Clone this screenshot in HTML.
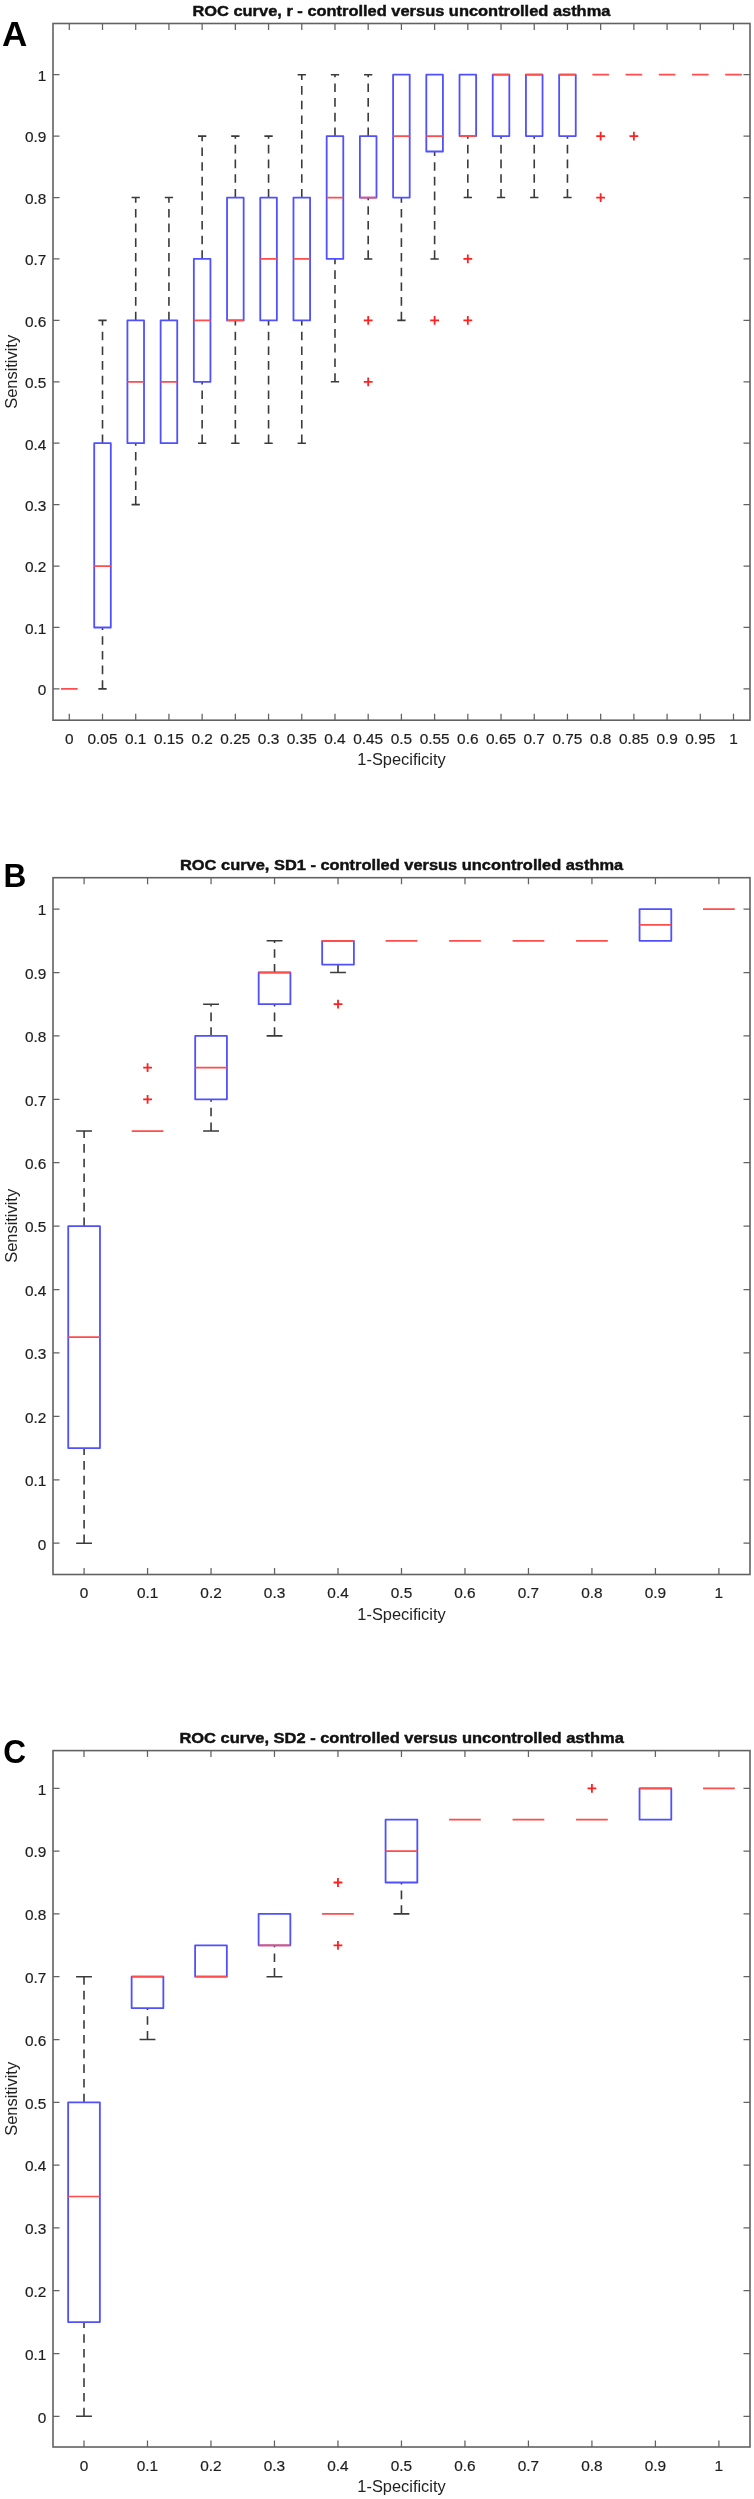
<!DOCTYPE html><html><head><meta charset="utf-8"><style>html,body{margin:0;padding:0;background:#fff;}svg{display:block;}text{font-family:"Liberation Sans", sans-serif;}</style></head><body>
<svg width="754" height="2499" viewBox="0 0 754 2499">
<rect x="0" y="0" width="754" height="2499" fill="#fff"/>
<defs><filter id="gs" x="0" y="0" filterUnits="userSpaceOnUse" width="754" height="2499"><feColorMatrix type="saturate" values="0"/></filter></defs>
<g fill="none" stroke="#626262" stroke-width="1.6" stroke-linecap="square">
<rect x="53" y="23.5" width="697" height="696.7"/>
<path stroke-width="1.25" stroke-linecap="butt" d="M69.3 720.2V713.7M69.3 23.5V30M102.51 720.2V713.7M102.51 23.5V30M135.72 720.2V713.7M135.72 23.5V30M168.93 720.2V713.7M168.93 23.5V30M202.14 720.2V713.7M202.14 23.5V30M235.35 720.2V713.7M235.35 23.5V30M268.56 720.2V713.7M268.56 23.5V30M301.77 720.2V713.7M301.77 23.5V30M334.98 720.2V713.7M334.98 23.5V30M368.19 720.2V713.7M368.19 23.5V30M401.4 720.2V713.7M401.4 23.5V30M434.61 720.2V713.7M434.61 23.5V30M467.82 720.2V713.7M467.82 23.5V30M501.03 720.2V713.7M501.03 23.5V30M534.24 720.2V713.7M534.24 23.5V30M567.45 720.2V713.7M567.45 23.5V30M600.66 720.2V713.7M600.66 23.5V30M633.87 720.2V713.7M633.87 23.5V30M667.08 720.2V713.7M667.08 23.5V30M700.29 720.2V713.7M700.29 23.5V30M733.5 720.2V713.7M733.5 23.5V30M53 688.9H59.5M750 688.9H743.5M53 627.48H59.5M750 627.48H743.5M53 566.06H59.5M750 566.06H743.5M53 504.64H59.5M750 504.64H743.5M53 443.22H59.5M750 443.22H743.5M53 381.8H59.5M750 381.8H743.5M53 320.38H59.5M750 320.38H743.5M53 258.96H59.5M750 258.96H743.5M53 197.54H59.5M750 197.54H743.5M53 136.12H59.5M750 136.12H743.5M53 74.7H59.5M750 74.7H743.5"/>
</g>
<g filter="url(#gs)">
<g font-size="15.4" fill="#1e1e1e" stroke="#1e1e1e" stroke-width="0.2">
<text transform="translate(69.3 743.7) scale(1 1)" text-anchor="middle">0</text>
<text transform="translate(102.51 743.7) scale(1 1)" text-anchor="middle">0.05</text>
<text transform="translate(135.72 743.7) scale(1 1)" text-anchor="middle">0.1</text>
<text transform="translate(168.93 743.7) scale(1 1)" text-anchor="middle">0.15</text>
<text transform="translate(202.14 743.7) scale(1 1)" text-anchor="middle">0.2</text>
<text transform="translate(235.35 743.7) scale(1 1)" text-anchor="middle">0.25</text>
<text transform="translate(268.56 743.7) scale(1 1)" text-anchor="middle">0.3</text>
<text transform="translate(301.77 743.7) scale(1 1)" text-anchor="middle">0.35</text>
<text transform="translate(334.98 743.7) scale(1 1)" text-anchor="middle">0.4</text>
<text transform="translate(368.19 743.7) scale(1 1)" text-anchor="middle">0.45</text>
<text transform="translate(401.4 743.7) scale(1 1)" text-anchor="middle">0.5</text>
<text transform="translate(434.61 743.7) scale(1 1)" text-anchor="middle">0.55</text>
<text transform="translate(467.82 743.7) scale(1 1)" text-anchor="middle">0.6</text>
<text transform="translate(501.03 743.7) scale(1 1)" text-anchor="middle">0.65</text>
<text transform="translate(534.24 743.7) scale(1 1)" text-anchor="middle">0.7</text>
<text transform="translate(567.45 743.7) scale(1 1)" text-anchor="middle">0.75</text>
<text transform="translate(600.66 743.7) scale(1 1)" text-anchor="middle">0.8</text>
<text transform="translate(633.87 743.7) scale(1 1)" text-anchor="middle">0.85</text>
<text transform="translate(667.08 743.7) scale(1 1)" text-anchor="middle">0.9</text>
<text transform="translate(700.29 743.7) scale(1 1)" text-anchor="middle">0.95</text>
<text transform="translate(733.5 743.7) scale(1 1)" text-anchor="middle">1</text>
<text transform="translate(46.4 695.2) scale(1 1)" text-anchor="end">0</text>
<text transform="translate(46.4 633.78) scale(1 1)" text-anchor="end">0.1</text>
<text transform="translate(46.4 572.36) scale(1 1)" text-anchor="end">0.2</text>
<text transform="translate(46.4 510.94) scale(1 1)" text-anchor="end">0.3</text>
<text transform="translate(46.4 449.52) scale(1 1)" text-anchor="end">0.4</text>
<text transform="translate(46.4 388.1) scale(1 1)" text-anchor="end">0.5</text>
<text transform="translate(46.4 326.68) scale(1 1)" text-anchor="end">0.6</text>
<text transform="translate(46.4 265.26) scale(1 1)" text-anchor="end">0.7</text>
<text transform="translate(46.4 203.84) scale(1 1)" text-anchor="end">0.8</text>
<text transform="translate(46.4 142.42) scale(1 1)" text-anchor="end">0.9</text>
<text transform="translate(46.4 81) scale(1 1)" text-anchor="end">1</text>
</g>
<text x="401.5" y="765.2" font-size="16.4" fill="#222" text-anchor="middle">1-Specificity</text>
<text transform="translate(17.2 371.8) rotate(-90)" font-size="16.4" fill="#222" text-anchor="middle">Sensitivity</text>
<text x="192.4" y="15.9" font-size="15.5" font-weight="bold" fill="#111" stroke="#111" stroke-width="0.45" textLength="418" lengthAdjust="spacingAndGlyphs">ROC curve, r - controlled versus uncontrolled asthma</text>
<text transform="translate(2 45.8) scale(1.0 1)" font-size="35" font-weight="bold" fill="#000">A</text>
</g>
<path fill="none" stroke="#3a3a3a" stroke-width="1.6" stroke-dasharray="8.6 6.1" d="M102.51 443.22V320.38M102.51 688.9V627.48M135.72 320.38V197.54M135.72 504.64V443.22M168.93 320.38V197.54M202.14 258.96V136.12M202.14 443.22V381.8M235.35 197.54V136.12M235.35 443.22V320.38M268.56 197.54V136.12M268.56 443.22V320.38M301.77 197.54V74.7M301.77 443.22V320.38M334.98 136.12V74.7M334.98 381.8V258.96M368.19 136.12V74.7M368.19 258.96V197.54M401.4 320.38V197.54M434.61 258.96V151.48M467.82 197.54V136.12M501.03 197.54V136.12M534.24 197.54V136.12M567.45 197.54V136.12"/>
<path fill="none" stroke="#3a3a3a" stroke-width="1.6" d="M98.36 320.38H106.66M98.36 688.9H106.66M131.57 197.54H139.87M131.57 504.64H139.87M164.78 197.54H173.08M197.99 136.12H206.29M197.99 443.22H206.29M231.2 136.12H239.5M231.2 443.22H239.5M264.41 136.12H272.71M264.41 443.22H272.71M297.62 74.7H305.92M297.62 443.22H305.92M330.83 74.7H339.13M330.83 381.8H339.13M364.04 74.7H372.34M364.04 258.96H372.34M397.25 320.38H405.55M430.46 258.96H438.76M463.67 197.54H471.97M496.88 197.54H505.18M530.09 197.54H538.39M563.3 197.54H571.6"/>
<path fill="none" stroke="#5050ff" stroke-width="1.8" stroke-linejoin="round" d="M94.21 627.48H110.81V443.22H94.21ZM127.42 443.22H144.02V320.38H127.42ZM160.63 443.22H177.23V320.38H160.63ZM193.84 381.8H210.44V258.96H193.84ZM227.05 320.38H243.65V197.54H227.05ZM260.26 320.38H276.86V197.54H260.26ZM293.47 320.38H310.07V197.54H293.47ZM326.68 258.96H343.28V136.12H326.68ZM359.89 197.54H376.49V136.12H359.89ZM393.1 197.54H409.7V74.7H393.1ZM426.31 151.48H442.91V74.7H426.31ZM459.52 136.12H476.12V74.7H459.52ZM492.73 136.12H509.33V74.7H492.73ZM525.94 136.12H542.54V74.7H525.94ZM559.15 136.12H575.75V74.7H559.15Z"/>
<path fill="none" stroke="#ff4c4c" stroke-width="1.7" d="M61 688.9H77.6M94.21 566.06H110.81M127.42 381.8H144.02M160.63 381.8H177.23M193.84 320.38H210.44M227.05 320.38H243.65M260.26 258.96H276.86M293.47 258.96H310.07M326.68 197.54H343.28M359.89 197.54H376.49M393.1 136.12H409.7M426.31 136.12H442.91M459.52 136.12H476.12M492.73 74.7H509.33M525.94 74.7H542.54M559.15 74.7H575.75M592.36 74.7H608.96M625.57 74.7H642.17M658.78 74.7H675.38M691.99 74.7H708.59M725.2 74.7H741.8"/>
<path fill="none" stroke="#ff2020" stroke-width="1.8" d="M363.79 320.38H372.59M368.19 315.98V324.78M363.79 381.8H372.59M368.19 377.4V386.2M430.21 320.38H439.01M434.61 315.98V324.78M463.42 258.96H472.22M467.82 254.56V263.36M463.42 320.38H472.22M467.82 315.98V324.78M596.26 136.12H605.06M600.66 131.72V140.52M596.26 197.54H605.06M600.66 193.14V201.94M629.47 136.12H638.27M633.87 131.72V140.52"/>
<g fill="none" stroke="#626262" stroke-width="1.6" stroke-linecap="square">
<rect x="53" y="877.7" width="697" height="696.8"/>
<path stroke-width="1.25" stroke-linecap="butt" d="M84.1 1574.5V1568M84.1 877.7V884.2M147.58 1574.5V1568M147.58 877.7V884.2M211.06 1574.5V1568M211.06 877.7V884.2M274.54 1574.5V1568M274.54 877.7V884.2M338.02 1574.5V1568M338.02 877.7V884.2M401.5 1574.5V1568M401.5 877.7V884.2M464.98 1574.5V1568M464.98 877.7V884.2M528.46 1574.5V1568M528.46 877.7V884.2M591.94 1574.5V1568M591.94 877.7V884.2M655.42 1574.5V1568M655.42 877.7V884.2M718.9 1574.5V1568M718.9 877.7V884.2M53 1543.2H59.5M750 1543.2H743.5M53 1479.79H59.5M750 1479.79H743.5M53 1416.38H59.5M750 1416.38H743.5M53 1352.97H59.5M750 1352.97H743.5M53 1289.56H59.5M750 1289.56H743.5M53 1226.15H59.5M750 1226.15H743.5M53 1162.74H59.5M750 1162.74H743.5M53 1099.33H59.5M750 1099.33H743.5M53 1035.92H59.5M750 1035.92H743.5M53 972.51H59.5M750 972.51H743.5M53 909.1H59.5M750 909.1H743.5"/>
</g>
<g filter="url(#gs)">
<g font-size="15.4" fill="#1e1e1e" stroke="#1e1e1e" stroke-width="0.2">
<text transform="translate(84.1 1598) scale(1 1)" text-anchor="middle">0</text>
<text transform="translate(147.58 1598) scale(1 1)" text-anchor="middle">0.1</text>
<text transform="translate(211.06 1598) scale(1 1)" text-anchor="middle">0.2</text>
<text transform="translate(274.54 1598) scale(1 1)" text-anchor="middle">0.3</text>
<text transform="translate(338.02 1598) scale(1 1)" text-anchor="middle">0.4</text>
<text transform="translate(401.5 1598) scale(1 1)" text-anchor="middle">0.5</text>
<text transform="translate(464.98 1598) scale(1 1)" text-anchor="middle">0.6</text>
<text transform="translate(528.46 1598) scale(1 1)" text-anchor="middle">0.7</text>
<text transform="translate(591.94 1598) scale(1 1)" text-anchor="middle">0.8</text>
<text transform="translate(655.42 1598) scale(1 1)" text-anchor="middle">0.9</text>
<text transform="translate(718.9 1598) scale(1 1)" text-anchor="middle">1</text>
<text transform="translate(46.4 1549.5) scale(1 1)" text-anchor="end">0</text>
<text transform="translate(46.4 1486.09) scale(1 1)" text-anchor="end">0.1</text>
<text transform="translate(46.4 1422.68) scale(1 1)" text-anchor="end">0.2</text>
<text transform="translate(46.4 1359.27) scale(1 1)" text-anchor="end">0.3</text>
<text transform="translate(46.4 1295.86) scale(1 1)" text-anchor="end">0.4</text>
<text transform="translate(46.4 1232.45) scale(1 1)" text-anchor="end">0.5</text>
<text transform="translate(46.4 1169.04) scale(1 1)" text-anchor="end">0.6</text>
<text transform="translate(46.4 1105.63) scale(1 1)" text-anchor="end">0.7</text>
<text transform="translate(46.4 1042.22) scale(1 1)" text-anchor="end">0.8</text>
<text transform="translate(46.4 978.81) scale(1 1)" text-anchor="end">0.9</text>
<text transform="translate(46.4 915.4) scale(1 1)" text-anchor="end">1</text>
</g>
<text x="401.5" y="1619.5" font-size="16.4" fill="#222" text-anchor="middle">1-Specificity</text>
<text transform="translate(17.2 1225.8) rotate(-90)" font-size="16.4" fill="#222" text-anchor="middle">Sensitivity</text>
<text x="180" y="870.2" font-size="15.5" font-weight="bold" fill="#111" stroke="#111" stroke-width="0.45" textLength="443.2" lengthAdjust="spacingAndGlyphs">ROC curve, SD1 - controlled versus uncontrolled asthma</text>
<text transform="translate(3.6 886.8) scale(0.93 1)" font-size="34" font-weight="bold" fill="#000">B</text>
</g>
<path fill="none" stroke="#3a3a3a" stroke-width="1.6" stroke-dasharray="8.6 6.1" d="M84.1 1226.15V1131.04M84.1 1543.2V1448.09M211.06 1035.92V1004.22M211.06 1131.04V1099.33M274.54 972.51V940.81M274.54 1035.92V1004.22M338.02 972.51V964.58"/>
<path fill="none" stroke="#3a3a3a" stroke-width="1.6" d="M76.16 1131.04H92.03M76.16 1543.2H92.03M203.12 1004.22H219M203.12 1131.04H219M266.6 940.81H282.47M266.6 1035.92H282.47M330.08 972.51H345.95"/>
<path fill="none" stroke="#5050ff" stroke-width="1.8" stroke-linejoin="round" d="M68.23 1448.09H99.97V1226.15H68.23ZM195.19 1099.33H226.93V1035.92H195.19ZM258.67 1004.22H290.41V972.51H258.67ZM322.15 964.58H353.89V940.81H322.15ZM639.55 940.81H671.29V909.1H639.55Z"/>
<path fill="none" stroke="#ff4c4c" stroke-width="1.7" d="M68.23 1337.12H99.97M131.71 1131.04H163.45M195.19 1067.62H226.93M258.67 972.51H290.41M322.15 940.81H353.89M385.63 940.81H417.37M449.11 940.81H480.85M512.59 940.81H544.33M576.07 940.81H607.81M639.55 924.95H671.29M703.03 909.1H734.77"/>
<path fill="none" stroke="#ff2020" stroke-width="1.8" d="M143.18 1067.62H151.98M147.58 1063.22V1072.03M143.18 1099.33H151.98M147.58 1094.93V1103.73M333.62 1004.22H342.42M338.02 999.82V1008.62"/>
<g fill="none" stroke="#626262" stroke-width="1.6" stroke-linecap="square">
<rect x="53" y="1750.6" width="697" height="696.4"/>
<path stroke-width="1.25" stroke-linecap="butt" d="M84 2447V2440.5M84 1750.6V1757.1M147.49 2447V2440.5M147.49 1750.6V1757.1M210.98 2447V2440.5M210.98 1750.6V1757.1M274.47 2447V2440.5M274.47 1750.6V1757.1M337.96 2447V2440.5M337.96 1750.6V1757.1M401.45 2447V2440.5M401.45 1750.6V1757.1M464.94 2447V2440.5M464.94 1750.6V1757.1M528.43 2447V2440.5M528.43 1750.6V1757.1M591.92 2447V2440.5M591.92 1750.6V1757.1M655.41 2447V2440.5M655.41 1750.6V1757.1M718.9 2447V2440.5M718.9 1750.6V1757.1M53 2416.3H59.5M750 2416.3H743.5M53 2353.5H59.5M750 2353.5H743.5M53 2290.7H59.5M750 2290.7H743.5M53 2227.9H59.5M750 2227.9H743.5M53 2165.1H59.5M750 2165.1H743.5M53 2102.3H59.5M750 2102.3H743.5M53 2039.5H59.5M750 2039.5H743.5M53 1976.7H59.5M750 1976.7H743.5M53 1913.9H59.5M750 1913.9H743.5M53 1851.1H59.5M750 1851.1H743.5M53 1788.3H59.5M750 1788.3H743.5"/>
</g>
<g filter="url(#gs)">
<g font-size="15.4" fill="#1e1e1e" stroke="#1e1e1e" stroke-width="0.2">
<text transform="translate(84 2470.5) scale(1 1)" text-anchor="middle">0</text>
<text transform="translate(147.49 2470.5) scale(1 1)" text-anchor="middle">0.1</text>
<text transform="translate(210.98 2470.5) scale(1 1)" text-anchor="middle">0.2</text>
<text transform="translate(274.47 2470.5) scale(1 1)" text-anchor="middle">0.3</text>
<text transform="translate(337.96 2470.5) scale(1 1)" text-anchor="middle">0.4</text>
<text transform="translate(401.45 2470.5) scale(1 1)" text-anchor="middle">0.5</text>
<text transform="translate(464.94 2470.5) scale(1 1)" text-anchor="middle">0.6</text>
<text transform="translate(528.43 2470.5) scale(1 1)" text-anchor="middle">0.7</text>
<text transform="translate(591.92 2470.5) scale(1 1)" text-anchor="middle">0.8</text>
<text transform="translate(655.41 2470.5) scale(1 1)" text-anchor="middle">0.9</text>
<text transform="translate(718.9 2470.5) scale(1 1)" text-anchor="middle">1</text>
<text transform="translate(46.4 2422.6) scale(1 1)" text-anchor="end">0</text>
<text transform="translate(46.4 2359.8) scale(1 1)" text-anchor="end">0.1</text>
<text transform="translate(46.4 2297) scale(1 1)" text-anchor="end">0.2</text>
<text transform="translate(46.4 2234.2) scale(1 1)" text-anchor="end">0.3</text>
<text transform="translate(46.4 2171.4) scale(1 1)" text-anchor="end">0.4</text>
<text transform="translate(46.4 2108.6) scale(1 1)" text-anchor="end">0.5</text>
<text transform="translate(46.4 2045.8) scale(1 1)" text-anchor="end">0.6</text>
<text transform="translate(46.4 1983) scale(1 1)" text-anchor="end">0.7</text>
<text transform="translate(46.4 1920.2) scale(1 1)" text-anchor="end">0.8</text>
<text transform="translate(46.4 1857.4) scale(1 1)" text-anchor="end">0.9</text>
<text transform="translate(46.4 1794.6) scale(1 1)" text-anchor="end">1</text>
</g>
<text x="401.5" y="2492" font-size="16.4" fill="#222" text-anchor="middle">1-Specificity</text>
<text transform="translate(17.2 2098.8) rotate(-90)" font-size="16.4" fill="#222" text-anchor="middle">Sensitivity</text>
<text x="179.4" y="1743.3" font-size="15.5" font-weight="bold" fill="#111" stroke="#111" stroke-width="0.45" textLength="444.4" lengthAdjust="spacingAndGlyphs">ROC curve, SD2 - controlled versus uncontrolled asthma</text>
<text transform="translate(3.2 1763) scale(0.93 1)" font-size="34" font-weight="bold" fill="#000">C</text>
</g>
<path fill="none" stroke="#3a3a3a" stroke-width="1.6" stroke-dasharray="8.6 6.1" d="M84 2102.3V1976.7M84 2416.3V2322.1M147.49 2039.5V2008.1M274.47 1976.7V1945.3M401.45 1913.9V1882.5"/>
<path fill="none" stroke="#3a3a3a" stroke-width="1.6" d="M76.06 1976.7H91.94M76.06 2416.3H91.94M139.55 2039.5H155.43M266.53 1976.7H282.41M393.51 1913.9H409.39"/>
<path fill="none" stroke="#5050ff" stroke-width="1.8" stroke-linejoin="round" d="M68.13 2322.1H99.87V2102.3H68.13ZM131.62 2008.1H163.36V1976.7H131.62ZM195.11 1976.7H226.85V1945.3H195.11ZM258.6 1945.3H290.34V1913.9H258.6ZM385.58 1882.5H417.32V1819.7H385.58ZM639.54 1819.7H671.28V1788.3H639.54Z"/>
<path fill="none" stroke="#ff4c4c" stroke-width="1.7" d="M68.13 2196.5H99.87M131.62 1976.7H163.36M195.11 1976.7H226.85M258.6 1945.3H290.34M322.09 1913.9H353.83M385.58 1851.1H417.32M449.07 1819.7H480.81M512.56 1819.7H544.3M576.05 1819.7H607.79M639.54 1788.3H671.28M703.03 1788.3H734.77"/>
<path fill="none" stroke="#ff2020" stroke-width="1.8" d="M333.56 1882.5H342.36M337.96 1878.1V1886.9M333.56 1945.3H342.36M337.96 1940.9V1949.7M587.52 1788.3H596.32M591.92 1783.9V1792.7"/>
</svg></body></html>
